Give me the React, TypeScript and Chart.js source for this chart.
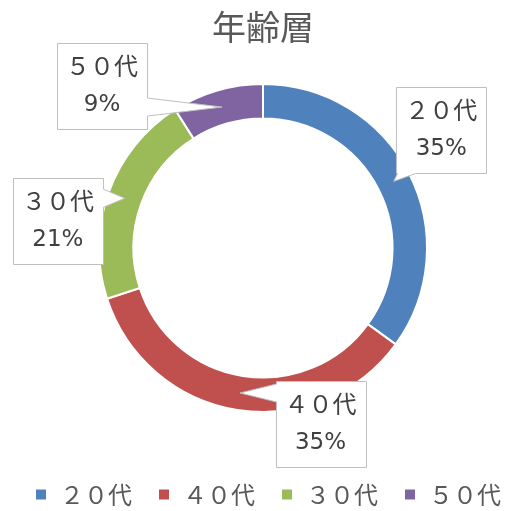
import React, { useEffect, useRef } from "react";
import { Chart, registerables } from "chart.js";

Chart.register(...registerables);

const TITLE = "年齢層";
const categories = ["２０代", "４０代", "３０代", "５０代"];
const values = [35, 35, 21, 9];
const colors = ["#4f81bd", "#c0504d", "#9bbb59", "#8064a2"];

// label layout: offset of each callout box centre from its tail tip
const calloutOffsets: [number, number][] = [
  [47.5, -51.5],
  [80.5, 31],
  [-67, 22.5],
  [-120, -21],
];

const FONT = "'Noto Sans CJK JP', 'Noto Sans', sans-serif";
const PCT_FONT = "'DejaVu Sans', sans-serif";
const BOX_W = 90;
const BOX_H = 86;
const LEGEND_LEFT = 36;
const LEGEND_Y = 494.5;

const calloutPlugin = {
  id: "callouts",
  afterDatasetsDraw(chart: any) {
    const ctx = chart.ctx as CanvasRenderingContext2D;
    const meta = chart.getDatasetMeta(0);
    const data = chart.data.datasets[0].data as number[];
    const total = data.reduce((a, b) => a + b, 0);
    meta.data.forEach((arc: any, i: number) => {
      const tip = arc.getCenterPoint();
      const off = calloutOffsets[i];
      const cx = tip.x + off[0];
      const cy = tip.y + off[1];
      const L = Math.round(cx - BOX_W / 2) + 0.5;
      const R = L + BOX_W;
      const T = Math.round(cy - BOX_H / 2) + 0.5;
      const B = T + BOX_H;
      const dxOut = tip.x < L ? L - tip.x : tip.x > R ? tip.x - R : 0;
      const dyOut = tip.y < T ? T - tip.y : tip.y > B ? tip.y - B : 0;
      let side: string;
      if (dxOut >= dyOut) side = tip.x < cx ? "left" : "right";
      else side = tip.y < cy ? "top" : "bottom";
      const half = 9;
      const clamp = (v: number, a: number, b: number) => Math.max(a, Math.min(b, v));
      ctx.save();
      ctx.beginPath();
      ctx.moveTo(L, T);
      if (side === "top") {
        const c = clamp(tip.x, L + 10, R - 10);
        ctx.lineTo(c - half, T);
        ctx.lineTo(tip.x, tip.y);
        ctx.lineTo(c + half, T);
      }
      ctx.lineTo(R, T);
      if (side === "right") {
        const c = clamp(tip.y, T + 10, B - 10);
        ctx.lineTo(R, c - half);
        ctx.lineTo(tip.x, tip.y);
        ctx.lineTo(R, c + half);
      }
      ctx.lineTo(R, B);
      if (side === "bottom") {
        const c = clamp(tip.x, L + 10, R - 10);
        ctx.lineTo(c + half, B);
        ctx.lineTo(tip.x, tip.y);
        ctx.lineTo(c - half, B);
      }
      ctx.lineTo(L, B);
      if (side === "left") {
        const c = clamp(tip.y, T + 10, B - 10);
        ctx.lineTo(L, c + half);
        ctx.lineTo(tip.x, tip.y);
        ctx.lineTo(L, c - half);
      }
      ctx.closePath();
      ctx.fillStyle = "#ffffff";
      ctx.fill();
      ctx.strokeStyle = "#bfbfbf";
      ctx.lineWidth = 1;
      ctx.stroke();

      ctx.textAlign = "center";
      ctx.textBaseline = "middle";
      ctx.fillStyle = "#404040";
      ctx.font = `24px ${FONT}`;
      ctx.fillText(chart.data.labels[i], cx, cy - 20);
      ctx.font = `23px ${PCT_FONT}`;
      const pct = Math.round((data[i] / total) * 100) + "%";
      ctx.fillText(pct, cx, cy + 19);
      ctx.restore();
    });
  },
};

const legendPlugin = {
  id: "customLegend",
  afterDraw(chart: any) {
    const ctx = chart.ctx as CanvasRenderingContext2D;
    const labels = chart.data.labels as string[];
    const bg = chart.data.datasets[0].backgroundColor as string[];
    ctx.save();
    ctx.font = `24px ${FONT}`;
    ctx.textBaseline = "middle";
    ctx.textAlign = "left";
    let x = LEGEND_LEFT;
    labels.forEach((lab, i) => {
      ctx.fillStyle = bg[i];
      ctx.fillRect(x, LEGEND_Y - 5, 10, 10);
      ctx.fillStyle = "#595959";
      ctx.fillText(lab, x + 24, LEGEND_Y);
      x += 24 + ctx.measureText(lab).width + 27;
    });
    ctx.restore();
  },
};

export default function App() {
  const ref = useRef<HTMLCanvasElement | null>(null);
  useEffect(() => {
    if (!ref.current) return;
    const chart = new Chart(ref.current, {
      type: "doughnut",
      data: {
        labels: categories,
        datasets: [
          {
            data: values,
            backgroundColor: colors,
            borderColor: "#ffffff",
            borderWidth: 2,
          },
        ],
      },
      options: {
        responsive: false,
        animation: false,
        cutout: "79%",
        layout: { padding: { left: 98, right: 79, top: 0, bottom: 98 } },
        plugins: {
          legend: { display: false },
          tooltip: { enabled: false },
          title: {
            display: true,
            text: TITLE,
            color: "#595959",
            font: { family: FONT, size: 34, weight: "normal" },
            padding: { top: 7, bottom: 35.2 },
          },
        },
      },
      plugins: [calloutPlugin, legendPlugin],
    });
    return () => chart.destroy();
  }, []);
  return (
    <div style={{ position: "fixed", left: 0, top: 0, width: 507, height: 511, background: "#fff" }}>
      <canvas ref={ref} width={507} height={511} style={{ display: "block" }} />
    </div>
  );
}
